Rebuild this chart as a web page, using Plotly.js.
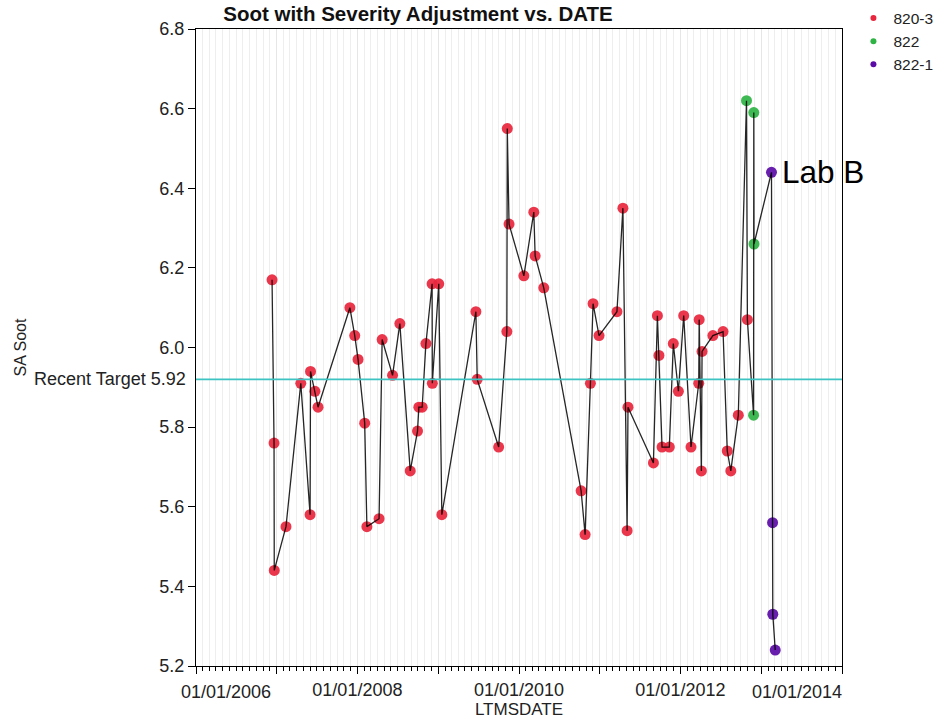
<!DOCTYPE html>
<html>
<head>
<meta charset="utf-8">
<script src="https://cdn.plot.ly/plotly-3.0.1.min.js"></script>
<style>
  html, body { margin: 0; padding: 0; background: #ffffff; }
  #chart { width: 940px; height: 721px; }
</style>
</head>
<body>
<div id="chart"></div>
<script>
// ---- Data ----
const dates820_3 = [
  '2006-12-11','2006-12-20','2006-12-21','2007-02-12','2007-04-20','2007-06-01','2007-06-03','2007-06-23','2007-07-07',
  '2007-11-28','2007-12-20','2008-01-04','2008-02-03','2008-02-13','2008-04-08','2008-04-22','2008-06-08','2008-07-11',
  '2008-08-27','2008-09-29','2008-10-05','2008-10-20','2008-11-06','2008-12-04','2008-12-05','2009-01-03','2009-01-17',
  '2009-06-20','2009-06-26','2009-10-01','2009-11-07','2009-11-09','2009-11-17','2010-01-23','2010-03-09','2010-03-15',
  '2010-04-23','2010-10-09','2010-10-27','2010-11-20','2010-12-02','2010-12-29','2011-03-20','2011-04-16','2011-05-05',
  '2011-05-09','2011-09-01','2011-09-19','2011-09-26','2011-10-10','2011-11-12','2011-11-30','2011-12-23','2012-01-16',
  '2012-02-18','2012-03-24','2012-03-26','2012-04-05','2012-04-08','2012-05-27','2012-07-12','2012-07-31','2012-08-16',
  '2012-09-19','2012-10-30'
];
const soot820_3 = [
  6.17, 5.76, 5.44, 5.55, 5.91, 5.58, 5.94, 5.89, 5.85,
  6.10, 6.03, 5.97, 5.81, 5.55, 5.57, 6.02, 5.93, 6.06,
  5.69, 5.79, 5.85, 5.85, 6.01, 6.16, 5.91, 6.16, 5.58,
  6.09, 5.92, 5.75, 6.04, 6.55, 6.31, 6.18, 6.34, 6.23,
  6.15, 5.64, 5.53, 5.91, 6.11, 6.03, 6.09, 6.35, 5.54,
  5.85, 5.71, 6.08, 5.98, 5.75, 5.75, 6.01, 5.89, 6.08,
  5.75, 5.91, 6.07, 5.69, 5.99, 6.03, 6.04, 5.74, 5.69,
  5.83, 6.07
];
const dates822 = ['2012-10-26','2012-11-27','2012-11-28','2012-11-29'];
const soot822  = [6.62, 5.83, 6.59, 6.26];
const dates822_1 = ['2013-02-16','2013-02-21','2013-02-22','2013-03-05'];
const soot822_1  = [6.44, 5.56, 5.33, 5.24];

const targetValue = 5.92;
const targetLabel = 'Recent Target 5.92';
const labelNote = 'Lab B';

const yearTicks = ['2006-01-01','2007-01-01','2008-01-01','2009-01-01','2010-01-01','2011-01-01','2012-01-01','2013-01-01','2014-01-01'];
const yearTickText = ['', '', '01/01/2008', '', '01/01/2010', '', '01/01/2012', '', ''];
const endLabelFirst = '01/01/2006';
const endLabelLast = '01/01/2014';

// ---- Build traces ----
const groups = [
  {name: '820-3', x: dates820_3, y: soot820_3, color: '#e8263d'},
  {name: '822',   x: dates822,   y: soot822,   color: '#2fb344'},
  {name: '822-1', x: dates822_1, y: soot822_1, color: '#5b0ca6'}
];

// all points connected in date order
const all = [];
groups.forEach(g => g.x.forEach((d, i) => all.push([d, g.y[i]])));
all.sort((a, b) => a[0] < b[0] ? -1 : (a[0] > b[0] ? 1 : 0));

const traces = [];
groups.forEach(g => {
  traces.push({
    type: 'scatter', mode: 'markers', x: g.x, y: g.y, name: g.name,
    showlegend: false, hoverinfo: 'x+y',
    marker: {color: g.color, size: 11, opacity: 0.92, line: {width: 0}}
  });
});
traces.push({
  type: 'scatter', mode: 'lines', x: all.map(p => p[0]), y: all.map(p => p[1]),
  showlegend: false, hoverinfo: 'skip',
  line: {color: 'rgba(0,0,0,0.85)', width: 1.3}
});
// legend entries
groups.forEach((g, i) => {
  traces.push({
    type: 'scatter', mode: 'markers', x: [null], y: [null], name: g.name,
    legendgroup: 'g' + i, showlegend: true,
    marker: {color: g.color, size: 6}
  });
});

const FONT = 'Liberation Sans, Arial, sans-serif';

const layout = {
  width: 940, height: 721,
  margin: {l: 196, r: 98, t: 29, b: 55, pad: 0},
  paper_bgcolor: '#ffffff', plot_bgcolor: '#ffffff',
  font: {family: FONT, size: 18, color: '#222222'},
  title: {
    text: '<b>Soot with Severity Adjustment vs. DATE</b>',
    font: {family: FONT, size: 20.5, color: '#111111'},
    xref: 'container', yref: 'container',
    x: 0.4447, xanchor: 'center', y: 0.9806, yanchor: 'middle'
  },
  showlegend: true,
  legend: {
    xref: 'container', yref: 'container',
    x: 0.9079, xanchor: 'left', y: 0.998, yanchor: 'top',
    bgcolor: 'rgba(0,0,0,0)', font: {family: FONT, size: 15.5, color: '#222222'},
    tracegroupgap: 10.5, traceorder: 'normal'
  },
  xaxis: {
    type: 'date',
    range: ['2006-01-01', '2014-01-01'],
    tickmode: 'array', tickvals: yearTicks, ticktext: yearTickText,
    ticks: 'outside', ticklen: 7, tickwidth: 1, tickcolor: '#000000',
    showline: true, linecolor: '#000000', linewidth: 1, mirror: true,
    showgrid: true, gridcolor: '#e6e6e6', gridwidth: 1,
    zeroline: false,
    tickfont: {family: FONT, size: 18, color: '#222222'},
    minor: {dtick: 'M1', tick0: '2006-01-01', ticks: 'outside', ticklen: 4, tickcolor: '#000000',
            showgrid: true, gridcolor: '#eeeeee', gridwidth: 1},
    title: {text: 'LTMSDATE', font: {family: FONT, size: 17, color: '#222222'}, standoff: 3}
  },
  yaxis: {
    range: [5.2, 6.8], tick0: 5.2, dtick: 0.2, tickformat: '.1f',
    ticks: 'outside', ticklen: 7, tickwidth: 1, tickcolor: '#000000',
    showline: true, linecolor: '#000000', linewidth: 1, mirror: true,
    showgrid: false, zeroline: false,
    tickfont: {family: FONT, size: 18, color: '#222222'},
    title: {text: 'SA Soot', font: {family: FONT, size: 16, color: '#222222'}, standoff: 128}
  },
  shapes: [{
    type: 'line', xref: 'paper', x0: 0, x1: 1, yref: 'y', y0: targetValue, y1: targetValue,
    line: {color: '#3ec3c3', width: 1.6, dash: 'solid'}, layer: 'above'
  }],
  annotations: [
    {xref: 'paper', x: 0, xanchor: 'right', xshift: -8, yref: 'y', y: targetValue, yanchor: 'middle',
     text: targetLabel, showarrow: false, font: {family: FONT, size: 18, color: '#222222'}},
    {xref: 'x', x: dates822_1[0], xanchor: 'left', xshift: 9, yref: 'y', y: soot822_1[0], yanchor: 'middle',
     text: labelNote, showarrow: false, font: {family: FONT, size: 31.5, color: '#000000'}},
    {xref: 'x', x: yearTicks[0], xanchor: 'left', xshift: -17, yref: 'paper', y: 0, yanchor: 'top', yshift: -14,
     text: endLabelFirst, showarrow: false, font: {family: FONT, size: 18, color: '#222222'}},
    {xref: 'x', x: yearTicks[yearTicks.length - 1], xanchor: 'right', xshift: 2, yref: 'paper', y: 0, yanchor: 'top', yshift: -14,
     text: endLabelLast, showarrow: false, font: {family: FONT, size: 18, color: '#222222'}}
  ]
};

Plotly.newPlot('chart', traces, layout, {displayModeBar: false, staticPlot: true});
</script>
</body>
</html>
